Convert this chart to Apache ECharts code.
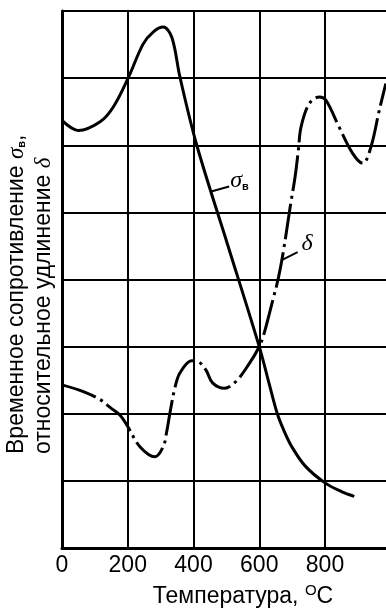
<!DOCTYPE html>
<html>
<head>
<meta charset="utf-8">
<script src="https://cdn.jsdelivr.net/npm/echarts@6/dist/echarts.min.js"></script>
<style>
html,body{margin:0;padding:0;background:#fff;}
#c{width:386px;height:610px;}
</style>
</head>
<body>
<div id="c"></div>
<script>
// Temperature ticks (vertical grid lines + labels)
const xTicks = [0, 200, 400, 600, 800];
const xGrid = [200, 400, 600, 800];

// sigma_v (tensile strength), relative units (grid cells)
const sigmaT = [0, 50, 116, 156, 202, 247, 278, 308, 334, 359, 410, 505, 600, 630, 655, 675, 700, 740, 800, 850, 889];
const sigmaV = [6.37, 6.22, 6.35, 6.57, 7.01, 7.51, 7.69, 7.76, 7.61, 7.01, 6.0, 4.5, 3.0, 2.45, 2.0, 1.75, 1.5, 1.22, 0.97, 0.84, 0.77];

// delta (relative elongation), relative units
const deltaT = [0, 65, 116, 150, 176, 200, 237, 283, 308, 318, 329, 344, 359, 394, 413, 438, 458, 494, 529, 570, 600, 615, 641, 658, 673, 694, 709, 719, 727, 752, 783, 803, 843, 884, 915, 940, 965, 985];
const deltaV = [2.43, 2.33, 2.21, 2.08, 1.98, 1.81, 1.51, 1.36, 1.51, 1.72, 2.03, 2.40, 2.61, 2.79, 2.78, 2.65, 2.46, 2.38, 2.48, 2.75, 3.0, 3.2, 3.69, 4.02, 4.41, 5.08, 5.53, 5.93, 6.27, 6.62, 6.72, 6.67, 6.27, 5.88, 5.73, 5.98, 6.52, 6.92];

// annotation anchors (data coords) on the curves
const sigmaLabelAt = [453.7, 5.31];
const deltaLabelAt = [668, 4.29];

const yTitle1 = 'Временное сопротивление ';
const yTitle2 = 'относительное удлинение ';
const xTitle = 'Температура, ';

const chart = echarts.init(document.getElementById('c'), null, {renderer: 'canvas'});
const FONT = '"Liberation Sans", Arial, sans-serif';

const pair = (xs, ys) => xs.map((x, i) => [x, ys[i]]);

chart.setOption({
  animation: false,
  backgroundColor: '#fff',
  grid: {left: 62, right: 0, top: 11, bottom: 62, containLabel: false},
  xAxis: {
    type: 'value', min: 0, max: 985.5, interval: 200,
    axisLine: {show: true, lineStyle: {color: '#000', width: 3}},
    axisTick: {show: false},
    axisLabel: {
      color: '#000', fontFamily: FONT, fontSize: 23, margin: 6,
      showMaxLabel: false,
      formatter: v => (xTicks.indexOf(v) >= 0 ? String(v) : '')
    },
    splitLine: {show: false}
  },
  yAxis: {
    type: 'value', min: 0, max: 8, interval: 1,
    axisLine: {show: true, lineStyle: {color: '#000', width: 3}},
    axisTick: {show: false},
    axisLabel: {show: false},
    splitLine: {show: true, lineStyle: {color: '#000', width: 2}}
  },
  series: [
    {
      name: 'grid', type: 'line', data: [], silent: true,
      markLine: {
        silent: true, symbol: 'none', animation: false,
        label: {show: false},
        lineStyle: {color: '#000', width: 2, type: 'solid'},
        data: xGrid.map(v => ({xAxis: v}))
      }
    },
    {
      name: 'sigma', type: 'line', data: pair(sigmaT, sigmaV),
      smooth: 0.35, symbol: 'none', z: 5,
      lineStyle: {color: '#000', width: 3}
    },
    {
      name: 'delta', type: 'line', data: pair(deltaT, deltaV),
      smooth: 0.35, symbol: 'none', z: 5,
      lineStyle: {color: '#000', width: 3, type: [36, 5, 3, 5]}
    }
  ]
});

const sp = chart.convertToPixel({gridIndex: 0}, sigmaLabelAt);
const dp = chart.convertToPixel({gridIndex: 0}, deltaLabelAt);

chart.setOption({
  graphic: [
    {type: 'line', z: 10, shape: {x1: sp[0], y1: sp[1], x2: sp[0] + 18, y2: sp[1] - 5}, style: {stroke: '#000', lineWidth: 2}},
    {type: 'text', z: 10, x: sp[0] + 19, y: sp[1] - 11,
      style: {text: '{s|σ}{b|в}', rich: {
        s: {font: 'italic 24px "Liberation Serif", serif', fill: '#000'},
        b: {font: 'bold 11px "Liberation Sans", sans-serif', fill: '#000', padding: [12, 0, 0, 0]}
      }, align: 'left', verticalAlign: 'middle'}},
    {type: 'line', z: 10, shape: {x1: dp[0], y1: dp[1], x2: dp[0] + 16, y2: dp[1] - 8}, style: {stroke: '#000', lineWidth: 2}},
    {type: 'text', z: 10, x: dp[0] + 20, y: dp[1] - 16,
      style: {text: 'δ', font: 'italic 24px "Liberation Serif", serif', fill: '#000', align: 'left', verticalAlign: 'middle'}},
    {type: 'text', z: 10, x: 17, y: 454, rotation: Math.PI / 2,
      style: {text: '{t|' + yTitle1 + '}{s|σ}{b|в}{t|,}', rich: {
        t: {font: '23px ' + FONT, fill: '#000'},
        s: {font: 'italic 23px "Liberation Serif", serif', fill: '#000'},
        b: {font: 'bold 11px "Liberation Sans", sans-serif', fill: '#000', padding: [9, 0, 0, 0]}
      }, align: 'left', verticalAlign: 'middle'}},
    {type: 'text', z: 10, x: 44, y: 454, rotation: Math.PI / 2,
      style: {text: '{t|' + yTitle2 + '}{s|δ}', rich: {
        t: {font: '23px ' + FONT, fill: '#000'},
        s: {font: 'italic 23px "Liberation Serif", serif', fill: '#000'}
      }, align: 'left', verticalAlign: 'middle'}},
    {type: 'text', z: 10, x: 243, y: 597,
      style: {text: '{t|' + xTitle + '}{o|O}{t|C}', rich: {
        t: {font: '23px ' + FONT, fill: '#000'},
        o: {font: '15px ' + FONT, fill: '#000', padding: [0, 0, 12, 0]}
      }, align: 'center', verticalAlign: 'middle'}}
  ]
});
</script>
</body>
</html>
